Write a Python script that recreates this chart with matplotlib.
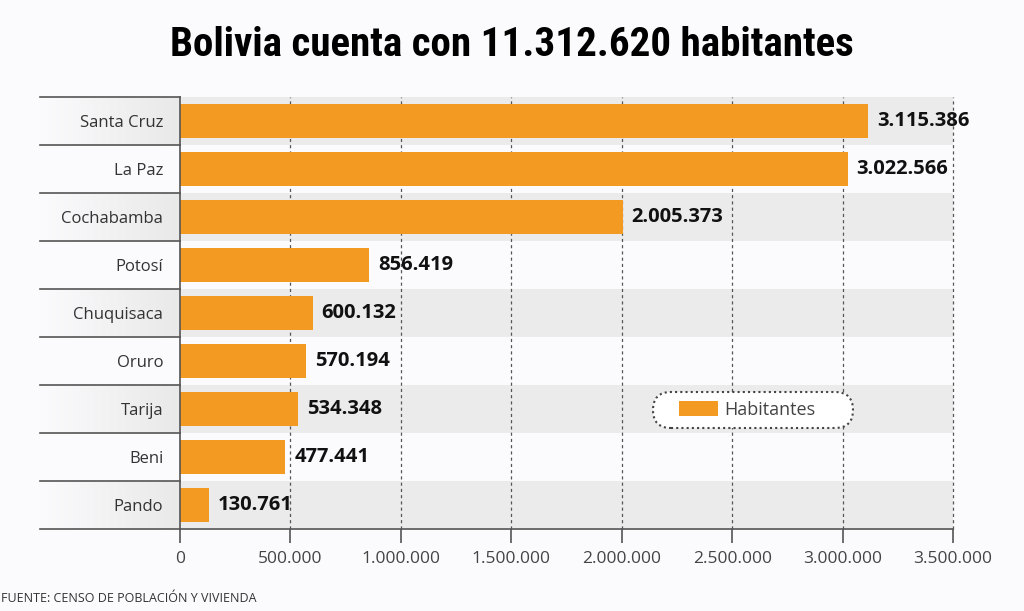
import matplotlib.pyplot as plt
import numpy as np
from matplotlib.colors import LinearSegmentedColormap
from matplotlib.patches import FancyBboxPatch
from matplotlib.ticker import FuncFormatter
from matplotlib.transforms import IdentityTransform

# ---------------------------------------------------------------------
# Data
# ---------------------------------------------------------------------

departamentos = ["Santa Cruz", "La Paz", "Cochabamba", "Potosí", "Chuquisaca",
                 "Oruro", "Tarija", "Beni", "Pando"]
habitantes = [3115386, 3022566, 2005373, 856419, 600132, 570194, 534348, 477441, 130761]
x_ticks = [0, 500000, 1000000, 1500000, 2000000, 2500000, 3000000, 3500000]

title = "Bolivia cuenta con 11.312.620 habitantes"
source = "FUENTE: CENSO DE POBLACIÓN Y VIVIENDA"


def miles(v):
    return f"{int(v):,}".replace(",", ".")


# ---------------------------------------------------------------------
# Visualize
# ---------------------------------------------------------------------

bg = "#fbfbfd"
orange = "#f39a22"
label_font = ["Open Sans", "DejaVu Sans"]

fig = plt.figure(figsize=(10.24, 6.11), dpi=100, facecolor=bg)
W, H = 1024, 611
ax = fig.add_axes([180 / W, 1 - 529 / H, (953 - 180) / W, (529 - 97) / H])
ax.set_facecolor(bg)

n = len(departamentos)
y = np.arange(n)
ax.set_xlim(0, 3500000)

left_ext = -(180 - 40) / (953 - 180)

# alternating grey rows, gradient in the label area
grad = np.linspace(0, 1, 200).reshape(1, -1)
cmap = LinearSegmentedColormap.from_list("g", [bg, "#e9e9e9"])
for i in range(n):
    if i % 2 == 0:
        ax.axhspan(i - 0.5, i + 0.5, color="#ebebeb", lw=0, zorder=0)
        ax.imshow(grad, extent=(left_ext, 0, i + 0.5, i - 0.5), aspect="auto",
                  cmap=cmap, transform=ax.get_yaxis_transform(),
                  clip_on=False, zorder=0)
ax.set_ylim(n - 0.5, -0.5)

# row separators in the label area
for b in np.arange(-0.5, n + 0.5, 1):
    ax.plot([left_ext, 0], [b, b], color="#555555", lw=1.2,
            transform=ax.get_yaxis_transform(), clip_on=False, zorder=3)

# dashed grid
for t in x_ticks[1:]:
    ax.axvline(t, color="#555555", lw=0.9, ls=(0, (2.5, 2.5)), zorder=1, clip_on=False)

ax.barh(y, habitantes, height=0.72, color=orange, zorder=2, label="Habitantes")

for yi, v in zip(y, habitantes):
    ax.text(v + 40000, yi, miles(v), va="center", ha="left", fontsize=14.5,
            fontweight="bold", family=label_font, color="#111111", zorder=4)

ax.set_yticks(y)
ax.set_yticklabels(departamentos, fontsize=12, family=label_font, color="#333333")
ax.tick_params(axis="y", length=0, pad=12)

ax.set_xticks(x_ticks)
ax.xaxis.set_major_formatter(FuncFormatter(lambda v, p: miles(v)))
ax.tick_params(axis="x", length=10, width=1.2, color="#555555", labelsize=12.5,
               labelcolor="#444444", pad=6)
for lab in ax.get_xticklabels():
    lab.set_family(label_font)

for s in ["top", "right"]:
    ax.spines[s].set_visible(False)
ax.spines["bottom"].set_color("#555555")
ax.spines["bottom"].set_linewidth(1.2)
ax.spines["left"].set_color("#555555")
ax.spines["left"].set_linewidth(1.2)
ax.spines["left"].set_zorder(3)

# legend: pill-shaped dotted frame drawn separately
pill = FancyBboxPatch((653, H - 428), 200, 36,
                      boxstyle="round,pad=0,rounding_size=18",
                      transform=IdentityTransform(), facecolor="white",
                      edgecolor="#444444", lw=1.5, ls=(0, (1, 1.5)),
                      zorder=5, clip_on=False)
ax.add_artist(pill)
leg = ax.legend(loc="center left", bbox_to_anchor=((679 - 180) / 773, (529 - 410) / 432),
                frameon=False, prop={"family": label_font, "size": 13},
                handlelength=2.15, handleheight=0.9, handletextpad=0.33,
                borderpad=0, labelcolor="#444444", borderaxespad=0)
leg.set_zorder(6)

fig.text(0.5, 1 - 45 / H, title, ha="center", va="center", fontsize=29.5,
         fontweight="bold",
         family=["Roboto Condensed", "Liberation Sans Narrow", "Roboto", "DejaVu Sans"],
         color="black")
fig.text(1 / W, 1 - 599 / H, source, ha="left", va="center", fontsize=9,
         family=label_font, color="#333333")

fig.savefig("out.png", dpi=100, facecolor=bg)
